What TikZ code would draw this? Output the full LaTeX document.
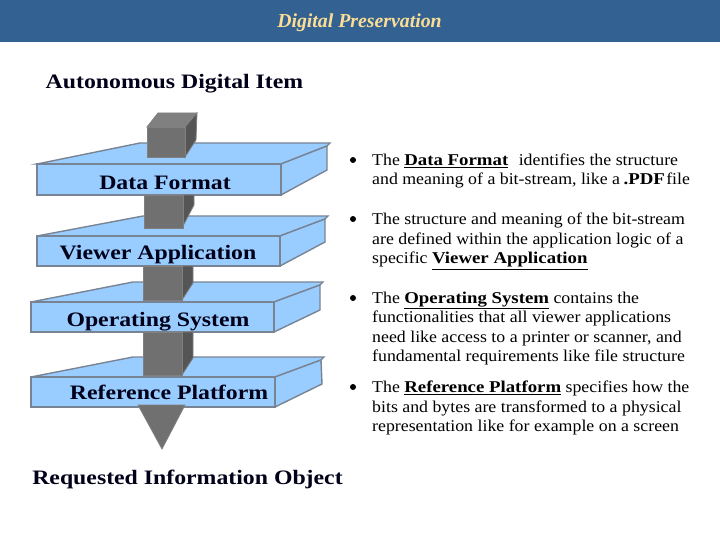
\documentclass[tikz,border=0pt]{standalone}
\usepackage{fontspec}
\setmainfont{Liberation Serif}
\newfontfamily\widebold[FakeStretch=1.16]{Liberation Serif Bold}
\newfontfamily\widebody[FakeStretch=1.08,BoldFont={Liberation Serif Bold},BoldFeatures={FakeStretch=1.14}]{Liberation Serif}
\definecolor{headblue}{RGB}{51,97,145}
\definecolor{headgold}{RGB}{250,222,150}
\definecolor{plateblue}{RGB}{153,204,255}
\definecolor{plateline}{RGB}{120,132,148}
\definecolor{colfront}{RGB}{112,112,112}
\definecolor{colside}{RGB}{85,85,85}
\definecolor{coltop}{RGB}{128,128,128}
\tikzset{
  plate/.style={draw=plateline, fill=plateblue, line width=1.4pt, line join=miter},
  colfront/.style={draw=coltop, fill=colfront, line width=0.8pt},
  colside/.style={draw=coltop, fill=colside, line width=0.8pt},
  coltop/.style={draw=coltop, fill=coltop, line width=0.8pt},
  headline/.style={font=\fontsize{20.5}{24}\selectfont\widebold, text=black!90!blue, inner sep=0pt},
  layername/.style={font=\fontsize{20.5}{24}\selectfont\widebold, text=black!90!blue, inner sep=0pt},
  itemtext/.style={font=\fontsize{16.5}{19.5}\selectfont\widebody, align=left, anchor=north west, inner sep=0pt},
  itemdot/.style={circle, fill=black, minimum size=6pt, inner sep=0pt}
}
\begin{document}
\begin{tikzpicture}[x=1pt,y=-1pt]
\useasboundingbox (0,0) rectangle (720,540);

\fill[headblue] (0,0) rectangle (720,42);
\node[font=\fontsize{19.8}{24}\selectfont\bfseries\itshape, text=headgold, inner sep=0pt] (title) at (359.5,23) {Digital Preservation};

\node[headline] (item) at (174.5,84) {Autonomous Digital Item};

% top block
\draw[plate] (37,164) -- (140,143) -- (330,143) -- (327,146) -- (281,164) -- cycle;
\draw[coltop] (147,127) -- (158,113) -- (197,113) -- (185,127) -- cycle;
\draw[colside] (185,127) -- (197,113) -- (196,140) -- (185,157) -- cycle;
\draw[colfront] (147,127) rectangle (185,157);
\draw[plate] (281,164) -- (327,146) -- (327,170) -- (281,195) -- cycle;
\draw[plate] (37,164) rectangle (281,195);
\node[layername] (format) at (165,182.5) {Data Format};

\draw[plate] (37,236) -- (143,216) -- (328,216) -- (325,219) -- (280,236) -- cycle;
\draw[colside] (183,195) -- (194,195) -- (194,205) -- (183,226) -- cycle;
\draw[colfront] (144,195) rectangle (183,228);
\draw[plate] (280,236) -- (325,219) -- (325,242) -- (280,266) -- cycle;
\draw[plate] (37,236) rectangle (280,266);
\node[layername] (viewer) at (158,254.5) {Viewer Application};

\draw[plate] (31,302) -- (133,282) -- (323,282) -- (320,285) -- (274,302) -- cycle;
\draw[colside] (182,266) -- (193,266) -- (193,283) -- (182,300) -- cycle;
\draw[colfront] (143,266) rectangle (182,300);
\draw[plate] (274,302) -- (320,285) -- (320,310) -- (274,332) -- cycle;
\draw[plate] (31,302) rectangle (274,332);
\node[layername] (system) at (158,321.5) {Operating System};

\draw[plate] (31,377) -- (133,357) -- (324,357) -- (321,360) -- (275,377) -- cycle;
\draw[colside] (182,332) -- (193,332) -- (193,358) -- (182,375) -- cycle;
\draw[colfront] (143,332) rectangle (182,375);
\draw[plate] (275,377) -- (321,360) -- (322,384) -- (275,407) -- cycle;
\draw[plate] (31,377) rectangle (275,407);
\node[layername] (platform) at (169,392.5) {Reference Platform};

\fill[colfront] (138,405) -- (185,405) -- (162,449) -- cycle;

\node[headline] (object) at (187.5,479) {Requested Information Object};

\node[itemdot] (dot1) at (353,160) {};
\node[itemtext] (text1) at (372,153.5) {The \underline{\textbf{Data Format}}\hspace{6pt} identifies the structure\\and meaning of a bit-stream, like a\hspace{-1pt} \textbf{.PDF}\hspace{-3pt} file};
\node[itemdot] (dot2) at (353,219) {};
\node[itemtext] (text2) at (372,213) {The structure and meaning of the bit-stream\\are defined within the application logic of a\\specific \underline{\textbf{Viewer Application}}};
\node[itemdot] (dot3) at (353,298) {};
\node[itemtext] (text3) at (372,291.5) {The \underline{\textbf{Operating System}} contains the\\functionalities that all viewer applications\\need like access to a printer or scanner, and\\fundamental requirements like file structure};
\node[itemdot] (dot4) at (353,387) {};
\node[itemtext] (text4) at (372,381) {The \underline{\textbf{Reference Platform}} specifies how the\\bits and bytes are transformed to a physical\\representation like for example on a screen};
\end{tikzpicture}
\end{document}
